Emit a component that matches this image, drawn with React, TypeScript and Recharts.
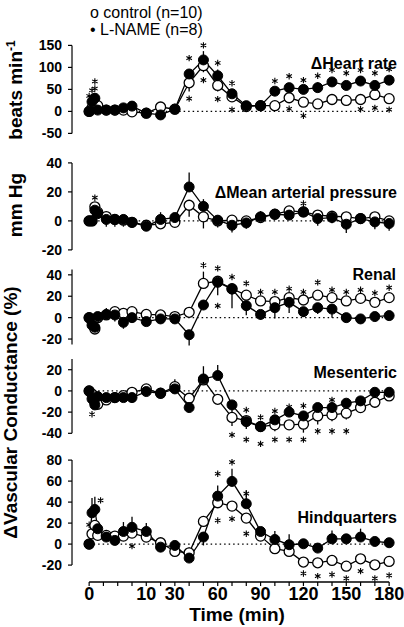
import React from "react";
import { ComposedChart, Line, Scatter, XAxis, YAxis, ReferenceLine, ErrorBar } from "recharts";

// sampling times (min)
const TIME = [0, 0.5, 1, 1.5, 3, 4.5, 6, 7.5, 10, 20, 30, 40, 50, 60, 70, 80, 90, 100, 110, 120, 130, 140, 150, 160, 170, 180];

// x axis: minor ticks and labelled ticks (min)
const X_TICK_TIMES = [0, 2.5, 5, 7.5, 10, 20, 30, 40, 50, 60, 70, 80, 90, 100, 110, 120, 130, 140, 150, 160, 170, 180];
const X_TICK_LABELS = [0, 10, 30, 60, 90, 120, 150, 180];

// ΔHeart rate (beats/min)
const HR_CONTROL = [0, 8, 18, 13, 3, 3, 3, -1, -4, 10, 5, 65, 104, 59, 33, 11, 13, 13, 31, 21, 17, 27, 25, 27, 38, 29];
const HR_LNAME = [0, 22, 30, 3, 3, 3, 8, 12, -4, -8, 5, 85, 117, 81, 40, 13, 13, 46, 54, 50, 54, 67, 59, 69, 59, 71];
const HR_CONTROL_ERR = [0, -8, 0, 0, 0, 0, 0, 0, 0, 0, 0, -20, -15, -14, -8, 0, 0, 0, 0, 0, 0, 0, 0, -8, -8, -8];
const HR_LNAME_ERR = [0, 0, 12, 0, 0, 0, 0, 0, 0, 0, 0, 10, 20, 14, 8, 0, 0, 10, 10, 10, 12, 10, 10, 10, 10, 10];
const HR_STARS = [[0, 35], [0.5, 48], [1, 68], [1, 52], [40, 121], [40, 29], [50, 150], [50, 71], [60, 110], [60, 28], [70, 64], [70, 4], [100, 69], [110, 80], [110, 6], [120, 71], [120, -10], [130, 81], [140, 94], [150, 87], [160, 94], [160, 5], [170, 87], [170, 8], [180, 96], [180, 4]];

// ΔMean arterial pressure (mm Hg)
const MAP_CONTROL = [0, 0, 9.7, 6, 3, 1, 0.5, -1, -3, -2, -1, 10.8, 2.8, 0, 0.5, 0, 2.3, 4.6, 6.9, 6.2, 4, 3.2, 2.8, 1.6, 2.8, 0];
const MAP_LNAME = [0, 0, 7.4, 5, 1, 1, 1, -1, -3.7, 1, 2.3, 23.4, 10, 0.5, -3, -1.4, 2.8, 4.6, 4, 6.2, 1.6, 2.3, -2.3, 1.6, -0.7, -1.8];
const MAP_CONTROL_ERR = [0, 0, 0, 0, 0, 0, 0, 0, 0, 0, 0, -8, -8, 0, 0, 0, 0, 0, 0, 0, 0, 0, 0, 0, 0, 0];
const MAP_LNAME_ERR = [0, 0, 5, 0, -5, -5, -5, 0, 0, 5, 3, 10, 5, -5, -5, -4, 4, 0, 0, 3, -5, -4, -6, 0, -5, -5];
const MAP_STARS = [[1, 16], [120, 12]];

// ΔVascular conductance (%), renal
const REN_CONTROL = [0, -3, -10.6, 0, 2.5, 5.6, 4, 5.6, 3, 2.5, 1, 5, 32, 34, 27, 21, 15.6, 15, 18.7, 16.5, 21, 18.7, 15.6, 18, 14.3, 18.7];
const REN_LNAME = [0, -7, -9, 1, 3, 2.5, -4.4, 0, -3.7, -1.2, -1.2, -16, 11.8, 33, 26.8, 11.2, 3, 9.3, 14.3, 5.6, 9.3, 8, 0, -1.2, 1, 1.9];
const REN_CONTROL_ERR = [0, -3, 0, 0, 0, 0, 0, 0, 0, 0, 0, 0, 11, 0, 0, 0, 0, 0, 0, 0, 0, 0, 0, 0, 0, 0];
const REN_LNAME_ERR = [0, 0, 0, 0, 6, -6, -6, 0, -4, -4, 0, -10, 0, -12, -18, -9, -5, -10, -10, -5, -6, -8, -4, -4, -4, -4];
const REN_STARS = [[50, 49], [60, 46], [60, 11], [70, 38], [80, 32], [90, 24], [100, 24], [110, 27], [120, 24], [130, 33], [140, 26], [150, 24], [160, 26], [170, 23], [180, 28]];

// mesenteric
const MES_CONTROL = [0, -3, -11, -12.6, -8.5, -6.3, -4.4, -1.3, 1.9, -2.2, 4, -6.9, 10.4, -7.9, -25, -28, -33.6, -32, -32, -31.4, -23.6, -22.6, -21, -15.7, -10.7, -4.7];
const MES_LNAME = [0, -7.5, -13.2, -5.3, -6.3, -6.3, -6.3, -6.3, -0.6, -2.2, 1.9, -15.7, 11.3, 14.5, -13.2, -29, -33.6, -27.3, -20, -23.6, -15.7, -15.7, -11.6, -9.4, -1.3, -1.3];
const MES_CONTROL_ERR = [0, 0, 0, 0, 0, 0, 0, 0, 0, 0, 7, 0, 0, 0, -8, -8, 0, -6, 0, -8, -8, -6, -6, -5, -5, 0];
const MES_LNAME_ERR = [0, 0, 0, 0, -3, -3, -3, -3, 0, 0, 5, 0, 12, 10, -8, 0, 0, 0, 0, 0, 0, 0, 0, 0, 0, 0];
const MES_STARS = [[0.5, -22], [70, -41.5], [80, -18], [80, -46], [90, -25], [90, -50], [100, -19], [100, -46], [110, -15], [110, -46], [120, -14], [120, -46], [130, -38], [140, -8.5], [140, -38], [150, -38]];

// hindquarters
const HIN_CONTROL = [0, 9.8, 17.8, 8.3, 8.3, 7.6, 7.6, 10.5, 6.7, 1.3, -7, -8.3, 21.6, 39.4, 36.2, 24.8, 7.6, -4.4, -7, -17.1, -17.8, -15.6, -21, -14, -19.7, -16.5];
const HIN_LNAME = [0, 29.8, 33, 14.6, 6.7, 3.5, 12, 16, 12, -2.9, -1.3, -13.3, 6.7, 45.7, 59.7, 38.4, 12, 4.4, -0.6, 0.3, -3.8, 5, 5, 6.7, 2.5, 1.3];
const HIN_CONTROL_ERR = [0, -5, 0, 0, 0, 0, 0, 0, 0, -5, 0, 0, 0, 0, 0, 0, 0, 0, 0, 0, 0, 0, 0, 0, 0, 0];
const HIN_LNAME_ERR = [0, 14, 12, 0, 0, 0, 9, 10, 8, 5, 0, 0, -8, 10, 12, 13, 0, 8, 10, 0, 0, 8, 0, 8, 0, 0];
const HIN_STARS = [[0, 18.4], [2, 41.6], [7.5, -1.9], [40, -6], [60, 67], [60, 22.5], [70, 78], [70, 24], [80, 48], [80, 9.9], [120, -28], [130, -30.5], [140, -29], [150, -32.7], [160, -25.7], [170, -32.7], [180, -29.8]];

// broken time axis: 0-10 min stretched, then 10 min per unit
const timeToPos = (t: number) => (t <= 10 ? t * 0.4 : 4 + (t - 10) / 10);

const X_MIN = -1.2;
const X_MAX = 21.2;
const PX = 14.286; // px per axis unit
const PLOT_LEFT = 72;
const CHART_W = 404;
const RIGHT_MARGIN = CHART_W - (PLOT_LEFT + (X_MAX - X_MIN) * PX);
const PAD = 10;
const FONT = '"Liberation Sans", Arial, Helvetica, sans-serif';

const errRange = (e: number) => (e >= 0 ? [0, e] : [-e, 0]);

const buildRows = (control: number[], lname: number[], cErr: number[], lErr: number[]) =>
  TIME.map((t, i) => ({
    pos: timeToPos(t),
    c: control[i],
    l: lname[i],
    ce: errRange(cErr[i]),
    le: errRange(lErr[i]),
  }));

const buildStars = (stars: number[][]) => stars.map(([t, v]) => ({ pos: timeToPos(t), v }));

// small asterisk drawn as strokes (6 arms)
const StarShape = (props: any) => {
  const { cx, cy } = props;
  const r = 3.2;
  const dx = r * 0.866;
  const dy = r * 0.5;
  return (
    <path
      d={`M${cx},${cy - r}L${cx},${cy + r}M${cx - dx},${cy - dy}L${cx + dx},${cy + dy}M${cx - dx},${cy + dy}L${cx + dx},${cy - dy}`}
      stroke="#000"
      strokeWidth={1.1}
      fill="none"
    />
  );
};

interface PanelProps {
  rows: any[];
  stars: any[];
  zeroY: number;
  k: number;
  domain: [number, number];
  axis: [number, number];
  ticks: number[];
}

const Panel: React.FC<PanelProps> = ({ rows, stars, zeroY, k, domain, axis, ticks }) => {
  const plotTop = zeroY - domain[1] * k;
  const plotH = (domain[1] - domain[0]) * k;
  const firstPos = timeToPos(TIME[0]);
  const lastPos = timeToPos(TIME[TIME.length - 1]);
  return (
    <div style={{ position: "absolute", left: 0, top: plotTop - PAD }}>
      <ComposedChart
        width={CHART_W}
        height={plotH + 2 * PAD}
        data={rows}
        margin={{ top: PAD, bottom: PAD, left: 0, right: RIGHT_MARGIN }}
      >
        <XAxis dataKey="pos" type="number" domain={[X_MIN, X_MAX]} hide />
        <YAxis
          type="number"
          domain={domain}
          ticks={ticks}
          interval={0}
          width={PLOT_LEFT}
          axisLine={false}
          stroke="#000"
          tickSize={4}
          tickMargin={6}
          tickLine={{ stroke: "#000", strokeWidth: 1.2 }}
          tick={{ fill: "#000", fontSize: 14, fontWeight: "bold" }}
        />
        <ReferenceLine
          segment={[{ x: X_MIN, y: axis[0] }, { x: X_MIN, y: axis[1] }]}
          stroke="#000"
          strokeWidth={1.2}
          ifOverflow="visible"
        />
        <ReferenceLine
          segment={[{ x: firstPos, y: 0 }, { x: lastPos, y: 0 }]}
          stroke="#000"
          strokeWidth={1.3}
          strokeDasharray="1.5 3"
          ifOverflow="visible"
        />
        <Line
          dataKey="c"
          stroke="#000"
          strokeWidth={1.3}
          dot={{ r: 5, fill: "#fff", stroke: "#000", strokeWidth: 1.3 }}
          isAnimationActive={false}
        >
          <ErrorBar dataKey="ce" width={0} stroke="#000" strokeWidth={1.3} direction="y" />
        </Line>
        <Line
          dataKey="l"
          stroke="#000"
          strokeWidth={1.3}
          dot={{ r: 5, fill: "#000", stroke: "#000", strokeWidth: 1 }}
          isAnimationActive={false}
        >
          <ErrorBar dataKey="le" width={0} stroke="#000" strokeWidth={1.3} direction="y" />
        </Line>
        <Scatter data={stars} dataKey="v" shape={StarShape} isAnimationActive={false} />
      </ComposedChart>
    </div>
  );
};

const hrRows = buildRows(HR_CONTROL, HR_LNAME, HR_CONTROL_ERR, HR_LNAME_ERR);
const mapRows = buildRows(MAP_CONTROL, MAP_LNAME, MAP_CONTROL_ERR, MAP_LNAME_ERR);
const renRows = buildRows(REN_CONTROL, REN_LNAME, REN_CONTROL_ERR, REN_LNAME_ERR);
const mesRows = buildRows(MES_CONTROL, MES_LNAME, MES_CONTROL_ERR, MES_LNAME_ERR);
const hinRows = buildRows(HIN_CONTROL, HIN_LNAME, HIN_CONTROL_ERR, HIN_LNAME_ERR);

const xTicks = X_TICK_TIMES.map(timeToPos);
const xLabel = new Map(X_TICK_LABELS.map((t) => [timeToPos(t).toFixed(3), String(t)]));

const AXIS_Y = 581.5;
const AXIS_LEFT = PLOT_LEFT + (timeToPos(0) - X_MIN) * PX;
const AXIS_RIGHT = PLOT_LEFT + (timeToPos(180) - X_MIN) * PX;

const TimeAxis = () => (
  <div style={{ position: "absolute", left: 0, top: AXIS_Y - 6 }}>
    <ComposedChart
      width={CHART_W}
      height={50}
      data={hinRows}
      margin={{ top: 1, bottom: 0, left: AXIS_LEFT, right: CHART_W - AXIS_RIGHT }}
    >
      <XAxis
        dataKey="pos"
        type="number"
        domain={[timeToPos(0), timeToPos(180)]}
        ticks={xTicks}
        interval={0}
        height={44}
        stroke="#000"
        axisLine={{ stroke: "#000", strokeWidth: 1.3 }}
        tickLine={{ stroke: "#000", strokeWidth: 1.2 }}
        tickSize={4}
        tickMargin={1.5}
        tick={{ fill: "#000", fontSize: 18, fontWeight: "bold" }}
        tickFormatter={(v: number) => xLabel.get(v.toFixed(3)) ?? ""}
      />
      <YAxis hide />
      <Line dataKey="c" stroke="none" dot={false} isAnimationActive={false} />
    </ComposedChart>
  </div>
);

export default function App() {
  return (
    <div
      style={{
        position: "absolute",
        left: 0,
        top: 0,
        width: 404,
        height: 627,
        background: "#fff",
        fontFamily: FONT,
        overflow: "hidden",
      }}
    >
      <Panel rows={hrRows} stars={buildStars(HR_STARS)} zeroY={111.7} k={0.44} domain={[-55, 160]} axis={[-50, 150]} ticks={[-50, 0, 50, 100, 150]} />
      <Panel rows={mapRows} stars={buildStars(MAP_STARS)} zeroY={220.7} k={1.45} domain={[-22, 42]} axis={[-20, 40]} ticks={[-20, 0, 20, 40]} />
      <Panel rows={renRows} stars={buildStars(REN_STARS)} zeroY={317.7} k={1.07} domain={[-30, 52]} axis={[-25, 45]} ticks={[-20, 0, 20, 40]} />
      <Panel rows={mesRows} stars={buildStars(MES_STARS)} zeroY={391} k={1.06} domain={[-52, 32]} axis={[-40, 30]} ticks={[-40, -20, 0, 20]} />
      <Panel rows={hinRows} stars={buildStars(HIN_STARS)} zeroY={543.7} k={1.05} domain={[-36, 82]} axis={[-20, 80]} ticks={[-20, 0, 20, 40, 60, 80]} />
      <TimeAxis />
      <svg width={404} height={627} style={{ position: "absolute", left: 0, top: 0, pointerEvents: "none" }} fontFamily={FONT}>
        <text x={90} y={18} fontSize={16} fill="#000">o control (n=10)</text>
        <text x={90} y={35} fontSize={16} fill="#000">• L-NAME (n=8)</text>

        <g fontSize={16} fontWeight="bold" textAnchor="end" fill="#000">
          <text x={397} y={68.5}>ΔHeart rate</text>
          <text x={397} y={197.5}>ΔMean arterial pressure</text>
          <text x={396} y={280}>Renal</text>
          <text x={397} y={377.7}>Mesenteric</text>
          <text x={397} y={523.3}>Hindquarters</text>
        </g>

        <g fontSize={19} fontWeight="bold" textAnchor="middle" fill="#000">
          <text transform="translate(21.7,90) rotate(-90)">
            beats min<tspan dy={-7} fontSize={12}>-1</tspan>
          </text>
          <text transform="translate(21.5,205) rotate(-90)">mm Hg</text>
          <text transform="translate(16.5,412.5) rotate(-90)">ΔVascular Conductance (%)</text>
          <text x={237} y={621}>Time (min)</text>
        </g>
      </svg>
    </div>
  );
}
